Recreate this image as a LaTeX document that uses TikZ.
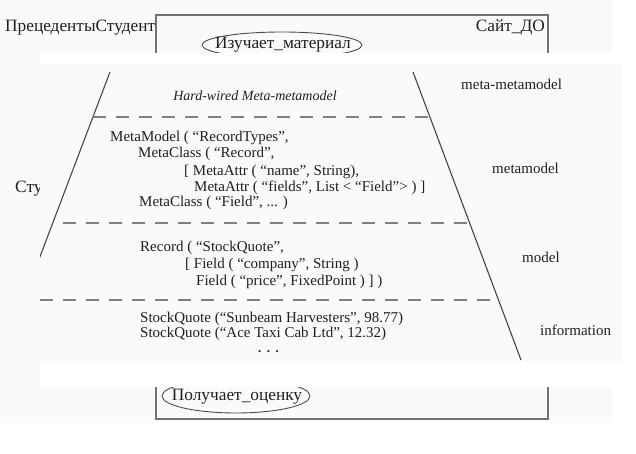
\documentclass[tikz,border=0pt]{standalone}
\usepackage{fontspec}
\setmainfont{Liberation Serif}
\begin{document}
\begin{tikzpicture}[x=1pt,y=-1pt,
  uctext/.style={font=\fontsize{17.3}{20}\selectfont, text=black!88, inner sep=0pt},
  codetext/.style={font=\fontsize{15}{17}\selectfont, text=black!88, inner sep=0pt, anchor=base west},
  lvltext/.style={font=\fontsize{15}{17}\selectfont, text=black!88, inner sep=0pt, anchor=base west},
  ucbox/.style={draw=black!55, line width=1.4pt},
  usecase/.style={draw=black!70, line width=0.9pt},
  slant/.style={draw=black!72, line width=1.1pt},
  levelsep/.style={draw=black!50, line width=1.7pt, dash pattern=on 13pt off 10pt},
  faintbg/.style={fill=black!2, draw=none}]
\useasboundingbox (0,0) rectangle (636,454);
% ---- background use-case diagram ----
\fill[faintbg] (0,0) rectangle (612,423);
\draw[ucbox] (156,15) rectangle (548,419);
\node[uctext, anchor=base west] (prec) at (5,32) {ПрецедентыСтудент};
\node[uctext, anchor=base east] (site) at (545,32) {Сайт\_ДО};
\draw[usecase] (282,45) ellipse [x radius=80, y radius=13];
\node[uctext, anchor=center] (study) at (283,45) {Изучает\_материал};
\draw[usecase] (236,396) ellipse [x radius=74, y radius=17];
\node[uctext, anchor=center] (grade) at (237,397) {Получает\_оценку};
\node[uctext, anchor=base west] (stud) at (15,193) {Сту};
% ---- white cover ----
\fill[white] (40,53) rectangle (623,387);
% ---- metamodel image ----
\fill[faintbg] (40,64) rectangle (621,363);
\coordinate (LT) at (110,72);
\coordinate (LB) at (0.8,360);
\coordinate (RT) at (413,72);
\coordinate (RB) at (521,360);
\coordinate (D1L) at (93,117);
\coordinate (D1R) at (430,117);
\coordinate (D2L) at (53,223);
\coordinate (D2R) at (470,223);
\coordinate (D3L) at (40,300);
\coordinate (D3R) at (498,300);
\begin{scope}
  \clip (40,64) rectangle (621,363);
  \draw[slant] (LT) -- (LB);
  \draw[slant] (RT) -- (RB);
  \draw[levelsep] (D1L) -- (D1R);
  \draw[levelsep, dash phase=13pt] (D2L) -- (D2R);
  \draw[levelsep] (D3L) -- (D3R);
\end{scope}
\node[font=\fontsize{14}{16}\selectfont\itshape, text=black!88, inner sep=0pt, anchor=base] (hw) at (255,101) {Hard-wired Meta-metamodel};
\node[lvltext] (lmm) at (461,90) {meta-metamodel};
\node[lvltext] (lm) at (492,174) {metamodel};
\node[lvltext] (lmod) at (522,262) {model};
\node[lvltext] (linf) at (540,335) {information};
\node[codetext] (c1) at (110,142) {MetaModel ( “RecordTypes”,};
\node[codetext] (c2) at (138,158) {MetaClass ( “Record”,};
\node[codetext] (c3) at (184,176) {[ MetaAttr ( “name”, String),};
\node[codetext] (c4) at (194,192) {MetaAttr ( “fields”, List < “Field”> ) ]};
\node[codetext] (c5) at (139,207) {MetaClass ( “Field”, ... )};
\node[codetext] (r1) at (140,251) {Record ( “StockQuote”,};
\node[codetext] (r2) at (185,268) {[ Field ( “company”, String )};
\node[codetext] (r3) at (196,285) {Field ( “price”, FixedPoint ) ] )};
\node[codetext] (s1) at (140,322) {StockQuote (“Sunbeam Harvesters”, 98.77)};
\node[codetext] (s2) at (140,337) {StockQuote (“Ace Taxi Cab Ltd”, 12.32)};
\node[codetext, text height=2.5pt, text depth=0pt, font=\fontsize{13}{15}\selectfont\bfseries] (dots) at (258,352) {.\hspace{5.5pt}.\hspace{5.5pt}.};
\end{tikzpicture}
\end{document}
